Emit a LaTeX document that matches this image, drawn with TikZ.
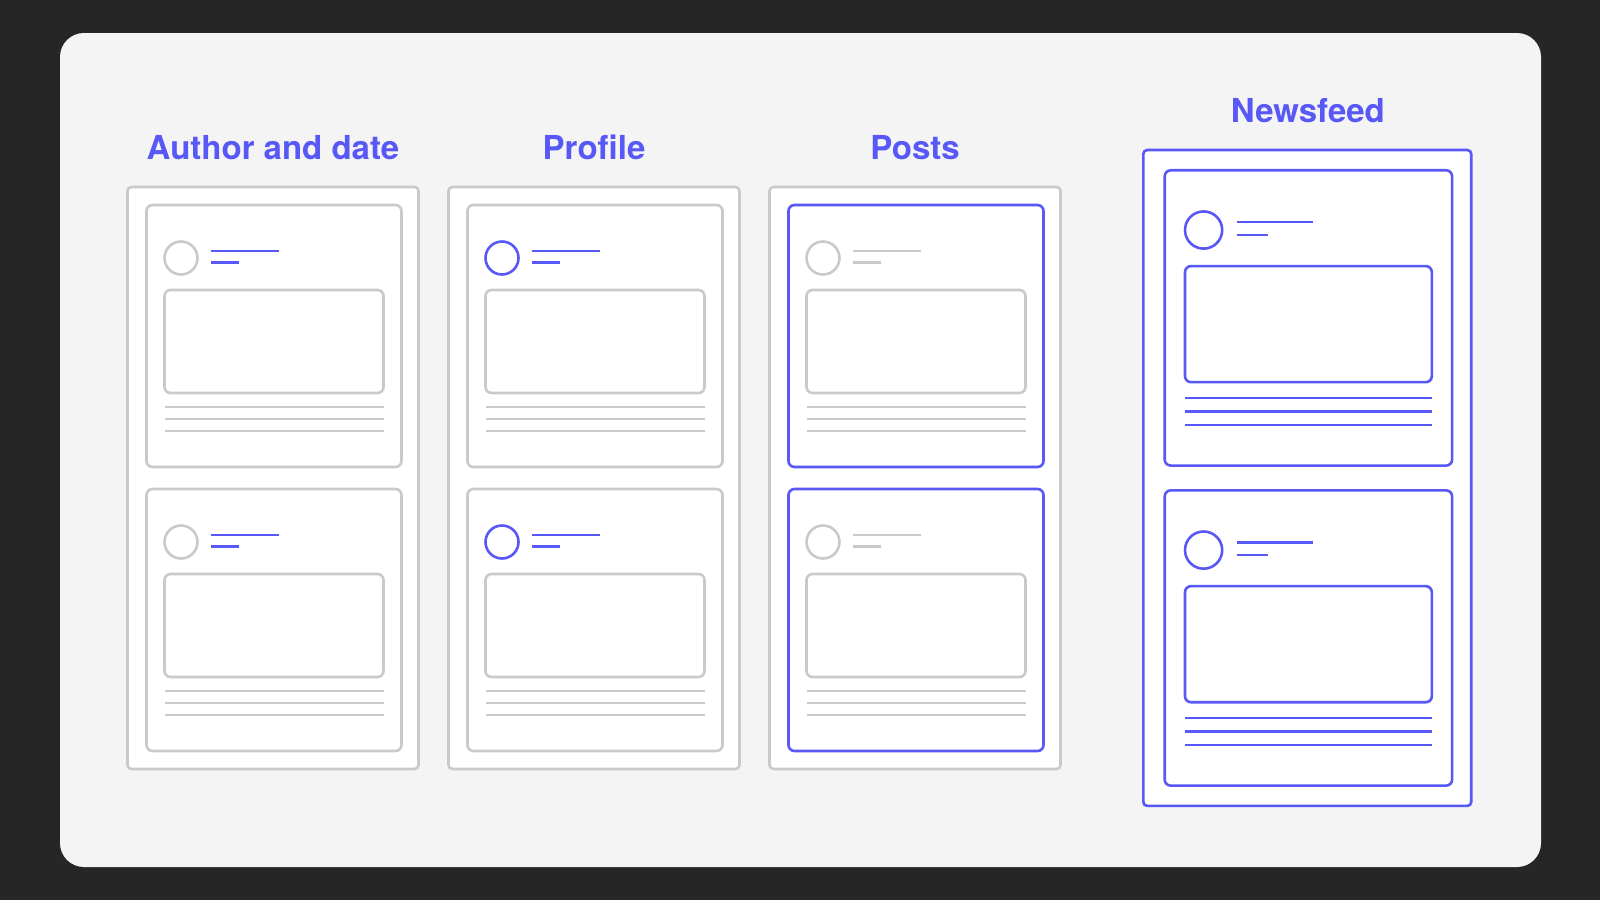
\documentclass[tikz,border=0pt]{standalone}
\usepackage{fontspec}
\setmainfont{TeX Gyre Heros}
\definecolor{bluec}{RGB}{88,88,247}
\definecolor{grayc}{RGB}{202,202,202}
\definecolor{bgc}{RGB}{38,38,38}
\definecolor{cardc}{RGB}{244,244,244}
\tikzset{
  ln/.style={line width=2.6pt},
  title/.style={anchor=base,text=bluec,font=\fontsize{33}{40}\selectfont\bfseries,inner sep=0pt}
}
\newcommand\drawcol[8]{%
\begin{scope}[shift={(#1,#2)},scale=#3]
\draw[ln,draw=#4,fill=white,rounded corners=4pt] (0,0) rectangle (291,582);
\foreach \T in {18,302}{
  \draw[ln,draw=#5,fill=white,rounded corners=6pt] (19,\T) rectangle (274,\T+262);
  \draw[ln,draw=#6] (53.5,\T+53) circle[radius=16.5];
  \draw[ln,draw=#7] (83,\T+46) -- (151,\T+46);
  \draw[ln,draw=#7] (83,\T+57.5) -- (111,\T+57.5);
  \draw[ln,draw=#8,fill=white,rounded corners=6pt] (37,\T+85) rectangle (256,\T+188);
  \draw[ln,draw=#8] (37,\T+202) -- (256,\T+202);
  \draw[ln,draw=#8] (37,\T+214) -- (256,\T+214);
  \draw[ln,draw=#8] (37,\T+226) -- (256,\T+226);
}
\end{scope}}
\begin{document}
\begin{tikzpicture}[x=1pt,y=-1pt]
\useasboundingbox (0,0) rectangle (1600,900);
\fill[bgc] (0,0) rectangle (1600,900);
\fill[cardc,rounded corners=24pt] (60,33) rectangle (1541,867);
\drawcol{127.5}{187}{1}{grayc}{grayc}{grayc}{bluec}{grayc}
\drawcol{448.5}{187}{1}{grayc}{grayc}{bluec}{bluec}{grayc}
\drawcol{769.5}{187}{1}{grayc}{bluec}{grayc}{grayc}{grayc}
\drawcol{1143.3}{150}{1.127}{bluec}{bluec}{bluec}{bluec}{bluec}
\node[title] (t1) at (273,159.3) {Author and date};
\node[title] (t2) at (594,159.3) {Profile};
\node[title] (t3) at (915,159.3) {Posts};
\node[title] (t4) at (1307.8,122.7) {Newsfeed};
\end{tikzpicture}
\end{document}
